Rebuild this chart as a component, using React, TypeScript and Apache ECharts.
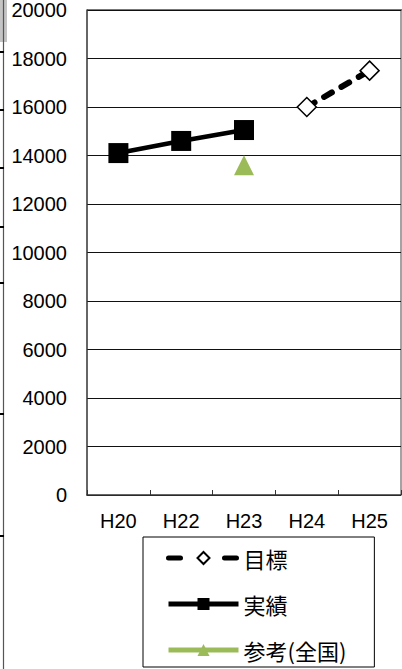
import React, { useEffect, useRef } from "react";
import * as echarts from "echarts";

const categories = ["H20", "H22", "H23", "H24", "H25"];
const targetValues = [null, null, null, 16000, 17500];
const actualValues = [14100, 14600, 15050, null, null];
const nationalValues = [null, null, 13600, null, null];
const seriesNames = ["目標", "実績", "参考(全国)"];
const leftFragmentTicks = [52, 110, 168, 227, 283, 414, 536];

export default function App() {
  const ref = useRef<HTMLDivElement>(null);
  useEffect(() => {
    if (!ref.current) return;
    const chart = echarts.init(ref.current, null, { renderer: "svg" });
    const fragmentGraphics: any[] = [
      { type: "rect", shape: { x: 0, y: 0, width: 7, height: 42 }, style: { fill: "#c4c4c4" } },
      { type: "line", shape: { x1: 3.5, y1: 0, x2: 3.5, y2: 669 }, style: { stroke: "#555", lineWidth: 1.2 } },
      ...leftFragmentTicks.map((y) => ({
        type: "line",
        shape: { x1: 0, y1: y, x2: 4, y2: y },
        style: { stroke: "#000", lineWidth: 2 },
      })),
      { type: "line", shape: { x1: 401, y1: 10, x2: 401, y2: 495 }, style: { stroke: "#666", lineWidth: 1.2 } },
      { type: "line", shape: { x1: 87, y1: 10, x2: 402, y2: 10 }, style: { stroke: "#777", lineWidth: 2 } },
    ];
    chart.setOption({
      animation: false,
      backgroundColor: "#fff",
      textStyle: { fontFamily: "'Liberation Sans', Arial, sans-serif" },
      grid: { left: 87, top: 10, right: 1, bottom: 225, containLabel: false },
      graphic: fragmentGraphics,
      legend: {
        orient: "vertical",
        left: 143,
        top: 537,
        data: [
          { name: seriesNames[0], lineStyle: { width: 5, type: [12, 44], cap: "round" } },
          { name: seriesNames[1], lineStyle: { width: 5 } },
          { name: seriesNames[2], lineStyle: { width: 5 } },
        ],
        itemWidth: 70,
        itemHeight: 15,
        itemGap: 24,
        padding: [10, 28, 6, 23],
        borderColor: "#000",
        borderWidth: 1,
        textStyle: {
          fontSize: 22,
          lineHeight: 20,
          color: "#000",
          fontFamily: "'Noto Sans CJK JP', sans-serif",
        },
      },
      xAxis: {
        type: "category",
        data: categories,
        boundaryGap: true,
        axisLine: { lineStyle: { color: "#333", width: 1.5 } },
        axisTick: { show: true, inside: true, length: 5, lineStyle: { color: "#333" } },
        axisLabel: { color: "#000", fontSize: 20, margin: 16 },
      },
      yAxis: {
        type: "value",
        min: 0,
        max: 20000,
        interval: 2000,
        axisLine: { show: true, lineStyle: { color: "#333", width: 1.5 } },
        axisTick: { show: false },
        axisLabel: { color: "#000", fontSize: 20, margin: 20, formatter: (v: number) => String(v) },
        splitLine: { lineStyle: { color: "#111", width: 1 } },
      },
      series: [
        {
          name: seriesNames[0],
          type: "line",
          data: targetValues,
          symbol: "diamond",
          symbolSize: 19,
          lineStyle: { color: "#000", width: 6, type: [9, 11], cap: "round" },
          itemStyle: { color: "#fff", borderColor: "#000", borderWidth: 1.5 },
          z: 3,
        },
        {
          name: seriesNames[1],
          type: "line",
          data: actualValues,
          symbol: "rect",
          symbolSize: 20,
          lineStyle: { color: "#000", width: 4.5 },
          itemStyle: { color: "#000" },
          z: 4,
        },
        {
          name: seriesNames[2],
          type: "line",
          data: nationalValues,
          symbol: "triangle",
          symbolSize: 20,
          lineStyle: { color: "#9bbb59", width: 4.5 },
          itemStyle: { color: "#9bbb59" },
          z: 4,
        },
      ],
    });
    return () => chart.dispose();
  }, []);
  return (
    <div style={{ position: "fixed", left: 0, top: 0, width: 402, height: 669, overflow: "hidden" }}>
      <div ref={ref} style={{ width: 402, height: 720 }} />
    </div>
  );
}
